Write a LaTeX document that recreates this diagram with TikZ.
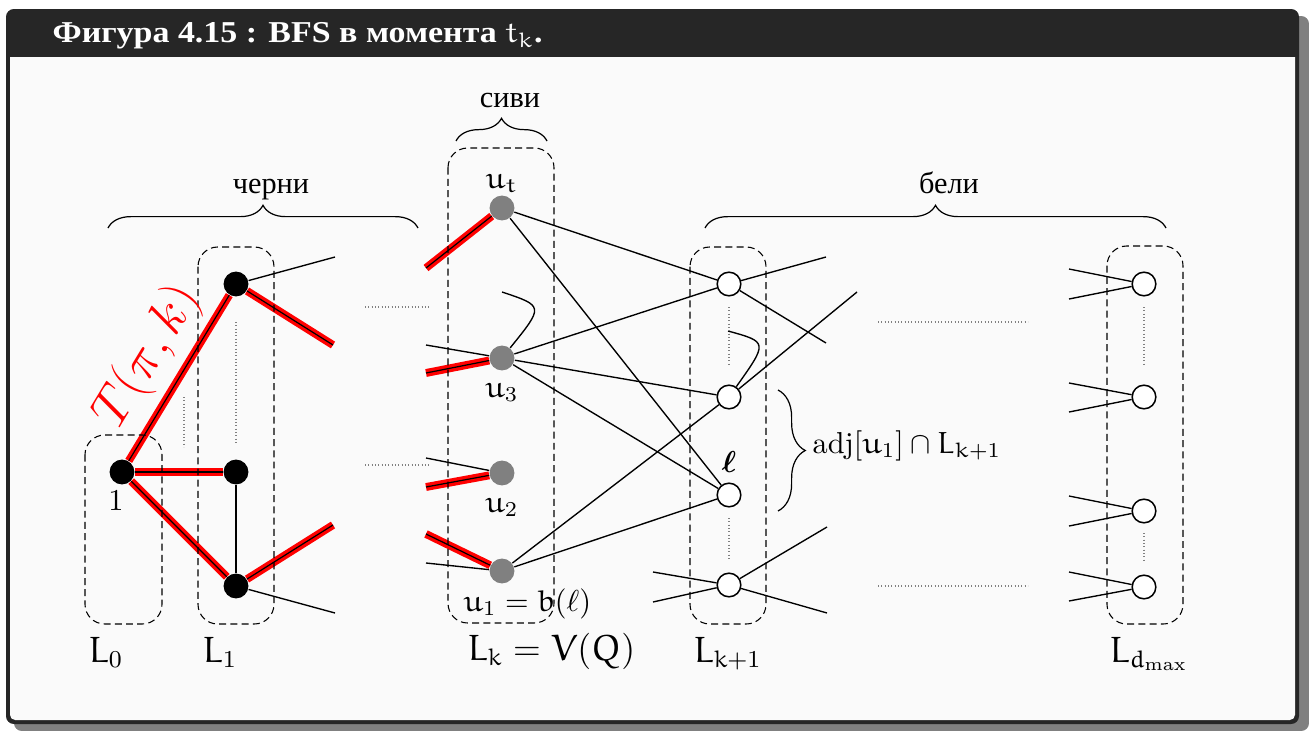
\documentclass[tikz,border=0pt]{standalone}
\usepackage{fontspec}
\usepackage{bm}
\newfontfamily\cyr{Liberation Serif}
\newfontfamily\cyrtitle{Liberation Serif}[FakeStretch=1.12]
\usetikzlibrary{decorations.pathreplacing}
\DeclareMathAlphabet{\eu}{U}{eur}{m}{n}
\definecolor{framedark}{HTML}{262626}
\definecolor{boxbg}{HTML}{FAFAFA}
\definecolor{shadowgray}{HTML}{808080}
\pgfdeclarelayer{bgframe}
\pgfdeclarelayer{bgedges}
\pgfsetlayers{bgframe,bgedges,main}
\begin{document}
\begin{tikzpicture}[x=0.33pt,y=-0.33pt,
  blk/.style={circle, fill=black, minimum size=8.2pt, inner sep=0pt},
  gry/.style={circle, fill=shadowgray, minimum size=8.2pt, inner sep=0pt},
  wht/.style={circle, draw=black, fill=white, line width=0.5pt, minimum size=7.8pt, inner sep=0pt},
  edge/.style={line width=0.45pt},
  tree/.style={line width=0.4pt, preaction={draw=red, line width=2.6pt}},
  layerbox/.style={draw, dash pattern=on 2.3pt off 1.4pt, rounded corners=6.5pt, line width=0.35pt},
  dots/.style={draw=gray, dash pattern=on 0.35pt off 0.75pt, line width=0.35pt},
  brc/.style={decorate, decoration={brace, amplitude=7.5pt}, line width=0.4pt},
  lbl/.style={inner sep=0pt, anchor=base},
  lblw/.style={inner sep=0pt, anchor=base west}]
\useasboundingbox (0,0) rectangle (1309,731);

% frame
\begin{pgfonlayer}{bgframe}
\fill[shadowgray, rounded corners=2.6pt] (14,16) rectangle (1309,731);
\fill[framedark, rounded corners=2.6pt] (6,9) rectangle (1299,724);
\fill[boxbg] (10,57) -- (1295,57) {[rounded corners=1.7pt] -- (1295,720) -- (10,720)} -- cycle;
\end{pgfonlayer}

\node[lblw, text=white] (title) at (52,43) {\cyrtitle\bfseries Фигура 4.15 : BFS в момента $\eu{t}_{\eu{k}}$.};

% layer boxes
\draw[layerbox] (85,435) rectangle (162,624);
\draw[layerbox] (198,247) rectangle (274,624);
\draw[layerbox] (448,148) rectangle (554,623);
\draw[layerbox] (690,247) rectangle (766,624);
\draw[layerbox] (1107,246) rectangle (1183,624);

% dotted hints
\draw[dots] (365,307) -- (431,307);
\draw[dots] (365,465) -- (431,465);
\draw[dots] (184,397) -- (184,447);
\draw[dots] (236,322) -- (236,443);
\draw[dots] (878,322) -- (1028,322);
\draw[dots] (878,586) -- (1028,586);
\draw[dots] (729,307) -- (729,364);
\draw[dots] (729,518) -- (729,560);
\draw[dots] (1144,307) -- (1144,365);
\draw[dots] (1144,533) -- (1144,561);

% nodes
\node[blk] (v1) at (122,472) {};
\node[blk] (a1) at (236,284) {};
\node[blk] (a2) at (236,472) {};
\node[blk] (a3) at (236,586) {};
\node[gry] (ut) at (502,208) {};
\node[gry] (u3) at (502,358) {};
\node[gry] (u2) at (502,473) {};
\node[gry] (u1) at (502,571) {};
\node[wht] (w1) at (729,284) {};
\node[wht] (w2) at (729,397) {};
\node[wht] (wl) at (729,495) {};
\node[wht] (w4) at (729,585) {};
\node[wht] (z1) at (1144,284) {};
\node[wht] (z2) at (1144,397) {};
\node[wht] (z3) at (1144,511) {};
\node[wht] (z4) at (1144,587) {};

% free ends
\coordinate (ra1) at (333,345);
\coordinate (ra3) at (333,525);
\coordinate (rut) at (426,268);
\coordinate (ru3) at (426,373);
\coordinate (ru2) at (426,487);
\coordinate (ru1) at (426,534);
\coordinate (ea1) at (335,257);
\coordinate (ea3) at (335,613);
\coordinate (eu3) at (426,345);
\coordinate (eu2) at (426,458);
\coordinate (eu1) at (426,563);
\coordinate (c3) at (502,292);
\coordinate (cw2) at (728,331);
\coordinate (ow1a) at (826,257);
\coordinate (ow1b) at (826,343);
\coordinate (ow2) at (857,292);
\coordinate (ow4a) at (827,527);
\coordinate (ow4b) at (827,613);
\coordinate (iw4a) at (653,572);
\coordinate (iw4b) at (653,602);
\coordinate (iz1a) at (1069,269);
\coordinate (iz1b) at (1069,299);
\coordinate (iz2a) at (1069,383);
\coordinate (iz2b) at (1069,412);
\coordinate (iz3a) at (1069,496);
\coordinate (iz3b) at (1069,526);
\coordinate (iz4a) at (1069,572);
\coordinate (iz4b) at (1069,601);

\begin{pgfonlayer}{bgedges}
% tree edges
\draw[tree] (v1) -- (a1);
\draw[tree] (v1) -- (a2);
\draw[tree] (v1) -- (a3);
\draw[tree] (a1) -- (ra1);
\draw[tree] (a3) -- (ra3);
\draw[tree] (rut) -- (ut);
\draw[tree] (ru3) -- (u3);
\draw[tree] (ru2) -- (u2);
\draw[tree] (ru1) -- (u1);
% plain edges
\draw[edge] (a1) -- (ea1);
\draw[edge] (a2) -- (a3);
\draw[edge] (a3) -- (ea3);
\draw[edge] (eu3) -- (u3);
\draw[edge] (eu2) -- (u2);
\draw[edge] (eu1) -- (u1);
\draw[edge] (ut) -- (w1);
\draw[edge] (ut) -- (wl);
\draw[edge] (u3) -- (w1);
\draw[edge] (u3) -- (w2);
\draw[edge] (u3) -- (wl);
\draw[edge] (u1) -- (w2);
\draw[edge] (u1) -- (wl);
\draw[edge] (u3) .. controls (544,306) .. (c3);
\draw[edge] (w2) .. controls (768,342) .. (cw2);
\draw[edge] (w1) -- (ow1a);
\draw[edge] (w1) -- (ow1b);
\draw[edge] (w2) -- (ow2);
\draw[edge] (w4) -- (ow4a);
\draw[edge] (w4) -- (ow4b);
\draw[edge] (iw4a) -- (w4);
\draw[edge] (iw4b) -- (w4);
\draw[edge] (iz1a) -- (z1);
\draw[edge] (iz1b) -- (z1);
\draw[edge] (iz2a) -- (z2);
\draw[edge] (iz2b) -- (z2);
\draw[edge] (iz3a) -- (z3);
\draw[edge] (iz3b) -- (z3);
\draw[edge] (iz4a) -- (z4);
\draw[edge] (iz4b) -- (z4);
\end{pgfonlayer}

% braces
\draw[brc] (108,228) -- (418,228);
\draw[brc] (456,141) -- (547,141);
\draw[brc] (705,228) -- (1166,228);
\draw[brc, decoration={brace, amplitude=9pt}] (778,390) -- (778,511);

% labels
\node[lbl] (tblack) at (271,193) {\cyr черни};
\node[lbl] (tgray) at (510,107) {\cyr сиви};
\node[lbl] (twhite) at (949,193) {\cyr бели};
\node[red, rotate=58.8, inner sep=0pt] (tlabel) at (148,357) {\fontsize{16.5}{18}\selectfont $T(\pi,k)$};
\node[lbl] (l1) at (116,510) {1};
\node[lbl] (lut) at (502,188) {$\eu{u}_{\eu{t}}$};
\node[lbl] (lu3) at (502,397) {$\eu{u}_3$};
\node[lbl] (lu2) at (502,512) {$\eu{u}_2$};
\node[lblw] (lu1) at (463,611) {$\eu{u}_1=\eu{b}(\ell)$};
\node[lbl] (lell) at (729,472) {$\bm{\ell}$};
\node[lblw] (ladj) at (812,453) {$\mathrm{adj}[\eu{u}_1]\cap \eu{L}_{\eu{k}+1}$};
\node[lblw] (L0) at (88,662) {\large $\eu{L}_0$};
\node[lblw] (L1) at (202,662) {\large $\eu{L}_1$};
\node[lblw] (Lk) at (467,660) {\large $\eu{L}_{\eu{k}}=\eu{V}(\eu{Q})$};
\node[lblw] (Lk1) at (693,662) {\large $\eu{L}_{\eu{k}+1}$};
\node[lblw] (Ld) at (1109,662) {\large $\eu{L}_{\eu{d}_{\mathrm{max}}}$};
\end{tikzpicture}
\end{document}
